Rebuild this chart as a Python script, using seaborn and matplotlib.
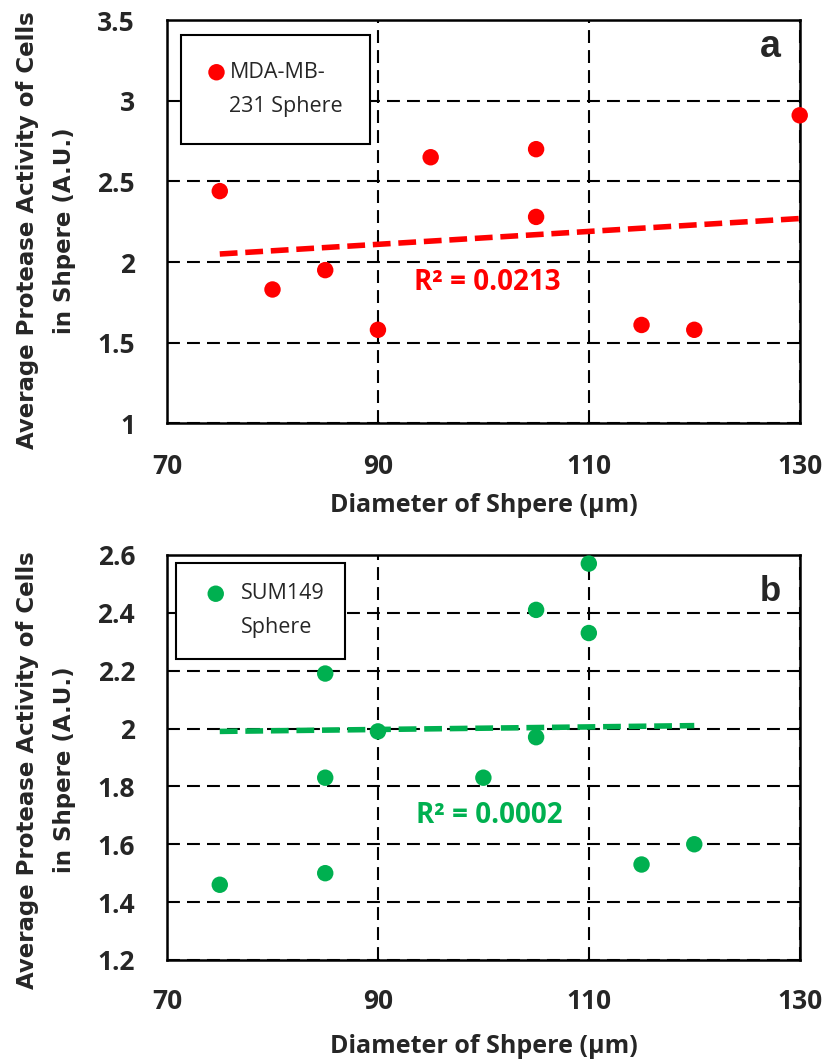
import numpy as np
import pandas as pd
import matplotlib
matplotlib.use("Agg")
import matplotlib.pyplot as plt
import seaborn as sns

# ---- data ----
diam_a = [75, 80, 85, 90, 95, 105, 105, 115, 120, 130]
prot_a = [2.44, 1.83, 1.95, 1.58, 2.65, 2.70, 2.28, 1.61, 1.58, 2.91]
diam_b = [75, 85, 85, 85, 90, 100, 105, 105, 110, 110, 115, 120]
prot_b = [1.46, 2.19, 1.83, 1.50, 1.99, 1.83, 2.41, 1.97, 2.57, 2.33, 1.53, 1.60]
# linear trendlines as drawn in the chart (end points)
trend_x_a = [75, 130]
trend_y_a = [2.05, 2.27]
trend_x_b = [75, 120]
trend_y_b = [1.99, 2.01]
label_a = "MDA-MB-\n231 Sphere"
label_b = "SUM149\nSphere"
r2_a = "R² = 0.0213"
r2_b = "R² = 0.0002"
xticks = [70, 90, 110, 130]
yticks_a = [1, 1.5, 2, 2.5, 3, 3.5]
yticks_b = [1.2, 1.4, 1.6, 1.8, 2.0, 2.2, 2.4, 2.6]
ytick_labels_a = ["1", "1.5", "2", "2.5", "3", "3.5"]
ytick_labels_b = ["1.2", "1.4", "1.6", "1.8", "2", "2.2", "2.4", "2.6"]
xlabel = "Diameter of Shpere (µm)"
ylabel = "Average Protease Activity of Cells\nin Shpere (A.U.)"

sns.set_style("white")
plt.rcParams["font.family"] = ["Open Sans", "DejaVu Sans"]

fig = plt.figure(figsize=(8.27, 10.61), dpi=100)
ax_a = fig.add_axes([0.202, 0.601, 0.765, 0.380])
ax_b = fig.add_axes([0.202, 0.0952, 0.765, 0.3818])

RED = "#ff0000"
GREEN = "#00b050"

panels = [
    dict(ax=ax_a, x=diam_a, y=prot_a, tx=trend_x_a, ty=trend_y_a, col=RED, lab=label_a,
         r2=r2_a, r2xy=(100.4, 1.825), ylim=(1, 3.5), yt=yticks_a, ytl=ytick_labels_a,
         letter="a", lsize=27, lety=0.908, lpos=(0.022, 0.963), bpad=1.25, hlen=0.8,
         htp=0.2, ylc=0.479, xlc=-0.174, xpad=21),
    dict(ax=ax_b, x=diam_b, y=prot_b, tx=trend_x_b, ty=trend_y_b, col=GREEN, lab=label_b,
         r2=r2_b, r2xy=(100.6, 1.674), ylim=(1.2, 2.6), yt=yticks_b, ytl=ytick_labels_b,
         letter="b", lsize=25, lety=0.886, lpos=(0.014, 0.98), bpad=0.95, hlen=1.8,
         htp=0.25, ylc=0.469, xlc=-0.183, xpad=20),
]

for p in panels:
    ax = p["ax"]
    col = p["col"]
    df = pd.DataFrame({"x": p["x"], "y": p["y"]})
    tdf = pd.DataFrame({"x": p["tx"], "y": p["ty"]})
    sns.lineplot(data=tdf, x="x", y="y", ax=ax, color=col, lw=4, ls=(0, (3.2, 1.4)),
                 zorder=3, legend=False)
    sns.scatterplot(data=df, x="x", y="y", ax=ax, color=col, s=140, edgecolor="none",
                    label=p["lab"], zorder=4, clip_on=False)
    ax.set_xlim(70, 130)
    ax.set_ylim(*p["ylim"])
    ax.set_xticks(xticks)
    ax.set_xticklabels([str(t) for t in xticks])
    ax.set_yticks(p["yt"])
    ax.set_yticklabels(p["ytl"])
    ax.grid(True, color="black", ls=(0, (6.2, 3.4)), lw=1.5)
    ax.set_axisbelow(True)
    for s in ax.spines.values():
        s.set_color("black")
        s.set_linewidth(1.8)
    ax.tick_params(axis="both", length=0, labelsize=19)
    ax.tick_params(axis="x", pad=p["xpad"])
    ax.tick_params(axis="y", pad=23)
    for t in ax.get_xticklabels() + ax.get_yticklabels():
        t.set_fontweight("bold")
    ax.set_xlabel(xlabel, fontsize=18, fontweight="bold")
    ax.xaxis.set_label_coords(0.5, p["xlc"])
    ax.set_ylabel(ylabel, fontsize=16.5, fontweight="bold", family=["DejaVu Sans"],
                  linespacing=1.8)
    ax.yaxis.set_label_coords(-0.144, p["ylc"])
    ax.text(p["r2xy"][0], p["r2xy"][1], p["r2"], color=col, fontsize=20, fontweight="bold",
            ha="center", va="baseline")
    ax.text(0.953, p["lety"], p["letter"], transform=ax.transAxes, fontsize=p["lsize"],
            fontweight="bold", family=["Liberation Sans", "DejaVu Sans"], ha="center",
            va="baseline")
    leg = ax.legend(loc="upper left", bbox_to_anchor=p["lpos"], borderaxespad=0,
                    frameon=True, fancybox=False, framealpha=1, edgecolor="black",
                    fontsize=15.5, handletextpad=p["htp"], borderpad=p["bpad"],
                    handlelength=p["hlen"], handleheight=1.4, markerscale=1.0)
    leg.get_frame().set_linewidth(1.5)
    for t in leg.get_texts():
        t.set_linespacing(1.8)
    # align the marker with the first text line
    try:
        row = leg._legend_handle_box.get_children()[0].get_children()[0]
        row.align = "top"
    except Exception:
        pass

fig.savefig("out.png", dpi=100)
